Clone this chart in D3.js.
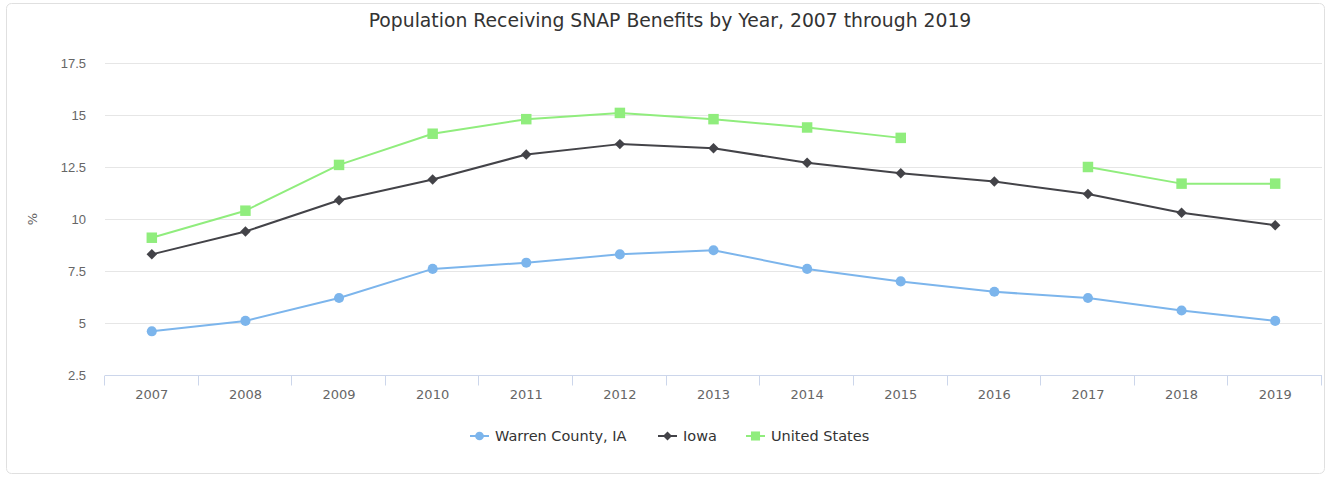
<!DOCTYPE html>
<html>
<head>
<meta charset="utf-8">
<script src="https://cdn.jsdelivr.net/npm/d3@7"></script>
<style>
  html, body { margin: 0; padding: 0; background: #fff; }
  svg { display: block; font-family: "DejaVu Sans", "Lucida Grande", Arial, sans-serif; }
</style>
</head>
<body>
<svg id="chart" width="1331" height="477"></svg>
<script>
// Share of population receiving SNAP benefits (%), by year
const years = ["2007","2008","2009","2010","2011","2012","2013","2014","2015","2016","2017","2018","2019"];
const warrenCounty = [4.6, 5.1, 6.2, 7.6, 7.9, 8.3, 8.5, 7.6, 7.0, 6.5, 6.2, 5.6, 5.1];
const iowa = [8.3, 9.4, 10.9, 11.9, 13.1, 13.6, 13.4, 12.7, 12.2, 11.8, 11.2, 10.3, 9.7];
const unitedStates = [9.1, 10.4, 12.6, 14.1, 14.8, 15.1, 14.8, 14.4, 13.9, null, 12.5, 11.7, 11.7];
const yTicks = [2.5, 5, 7.5, 10, 12.5, 15, 17.5];

// Square-cornered diamond (rotated square), like a classic chart marker
const symbolRhombus = {
  draw(context, size) {
    const r = Math.sqrt(size) / 2;
    context.moveTo(0, -r);
    context.lineTo(r, 0);
    context.lineTo(0, r);
    context.lineTo(-r, 0);
    context.closePath();
  }
};

const seriesList = [
  { name: "Warren County, IA", values: warrenCounty, color: "#7cb5ec", symbol: d3.symbolCircle, size: 80 },
  { name: "Iowa", values: iowa, color: "#434348", symbol: symbolRhombus, size: 110 },
  { name: "United States", values: unitedStates, color: "#90ed7d", symbol: d3.symbolSquare, size: 110 }
];

const svg = d3.select("#chart");
const W = 1331, H = 477;
const plot = { left: 105, right: 1322, top: 63, bottom: 375 };

// Outer frame
svg.append("rect")
  .attr("x", 6.5).attr("y", 3.5)
  .attr("width", W - 13).attr("height", H - 7)
  .attr("rx", 5).attr("ry", 5)
  .attr("fill", "#fff").attr("stroke", "#e0e0e0").attr("stroke-width", 1);

// Title
svg.append("text")
  .attr("x", 670).attr("y", 27)
  .attr("text-anchor", "middle")
  .attr("fill", "#333333")
  .style("font-size", "18.8px")
  .text("Population Receiving SNAP Benefits by Year, 2007 through 2019");

const x = d3.scaleBand().domain(years).range([plot.left, plot.right]).paddingInner(0).paddingOuter(0);
const y = d3.scaleLinear().domain([2.5, 17.5]).range([plot.bottom, plot.top]);
const cx = yr => x(yr) + x.bandwidth() / 2;

// Horizontal grid lines
svg.append("g")
  .selectAll("line")
  .data(yTicks.slice(1))
  .join("line")
  .attr("x1", plot.left).attr("x2", plot.right)
  .attr("y1", d => Math.round(y(d)) + 0.5).attr("y2", d => Math.round(y(d)) + 0.5)
  .attr("stroke", "#e6e6e6").attr("stroke-width", 1);

// Y axis labels
const yAxis = svg.append("g")
  .attr("transform", `translate(${plot.left - 19},0.5)`)
  .call(d3.axisLeft(y).tickValues(yTicks).tickSize(0).tickPadding(0).tickFormat(d3.format("")));
yAxis.select(".domain").remove();
yAxis.selectAll("text")
  .attr("fill", "#666666")
  .attr("dy", "0.32em")
  .style("font-size", "13px")
  .style("font-family", "inherit");

// Y axis title
svg.append("text")
  .attr("transform", `translate(37,${(plot.top + plot.bottom) / 2}) rotate(-90)`)
  .attr("text-anchor", "middle")
  .attr("fill", "#666666")
  .style("font-size", "13px")
  .text("%");

// X axis: baseline with ticks at category boundaries
const xAxis = svg.append("g").attr("transform", `translate(0,${plot.bottom + 0.5})`);
xAxis.append("line")
  .attr("x1", plot.left).attr("x2", plot.right)
  .attr("stroke", "#ccd6eb");
const boundaries = years.map(d => x(d)).concat([plot.right]);
xAxis.selectAll("line.tick")
  .data(boundaries)
  .join("line")
  .attr("class", "tick")
  .attr("x1", d => Math.round(d) - 0.5).attr("x2", d => Math.round(d) - 0.5)
  .attr("y1", 0).attr("y2", 10)
  .attr("stroke", "#ccd6eb");
xAxis.selectAll("text")
  .data(years)
  .join("text")
  .attr("x", d => cx(d))
  .attr("y", 23)
  .attr("text-anchor", "middle")
  .attr("fill", "#666666")
  .style("font-size", "13px")
  .text(d => d);

// Series lines and markers
const line = d3.line()
  .defined(d => d.v != null)
  .x(d => cx(d.yr))
  .y(d => y(d.v));

seriesList.forEach(s => {
  const pts = years.map((yr, i) => ({ yr, v: s.values[i] }));
  const g = svg.append("g");
  g.append("path")
    .datum(pts)
    .attr("d", line)
    .attr("fill", "none")
    .attr("stroke", s.color)
    .attr("stroke-width", 2)
    .attr("stroke-linejoin", "round")
    .attr("stroke-linecap", "round");
  g.selectAll("path.marker")
    .data(pts.filter(d => d.v != null))
    .join("path")
    .attr("class", "marker")
    .attr("transform", d => `translate(${cx(d.yr)},${y(d.v)})`)
    .attr("d", d3.symbol().type(s.symbol).size(s.size))
    .attr("fill", s.color);
});

// Legend
const legendItems = [
  { s: seriesList[0], x: 470 },
  { s: seriesList[1], x: 658 },
  { s: seriesList[2], x: 746 }
];
const legendY = 436;
legendItems.forEach(({ s, x: lx }) => {
  const g = svg.append("g").attr("transform", `translate(${lx},${legendY})`);
  g.append("line")
    .attr("x1", 0).attr("x2", 19)
    .attr("stroke", s.color).attr("stroke-width", 2);
  g.append("path")
    .attr("transform", "translate(9.5,0)")
    .attr("d", d3.symbol().type(s.symbol).size(s.size * 0.75))
    .attr("fill", s.color);
  g.append("text")
    .attr("x", 25).attr("y", 0)
    .attr("dy", "0.35em")
    .attr("fill", "#333333")
    .style("font-size", "14.5px")
    .text(s.name);
});
</script>
</body>
</html>
